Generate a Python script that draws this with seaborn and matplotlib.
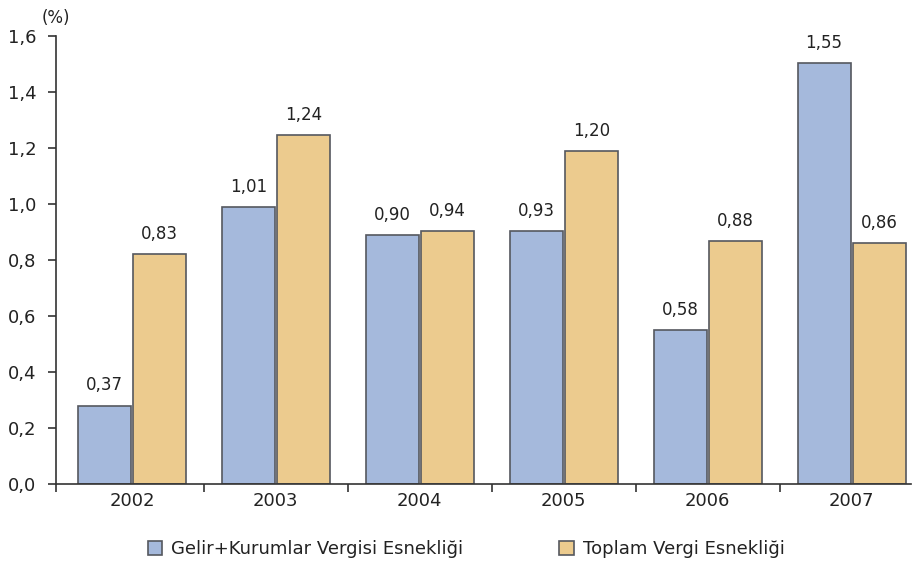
import pandas as pd
import seaborn as sns
import matplotlib.pyplot as plt
import numpy as np

# Data
years = ['2002', '2003', '2004', '2005', '2006', '2007']
gelirVals = [0.28, 0.99, 0.89, 0.905, 0.55, 1.505]
toplamVals = [0.82, 1.246, 0.904, 1.19, 0.868, 0.861]
gelirLabels = ['0,37', '1,01', '0,90', '0,93', '0,58', '1,55']
toplamLabels = ['0,83', '1,24', '0,94', '1,20', '0,88', '0,86']
yTicks = [0.0, 0.2, 0.4, 0.6, 0.8, 1.0, 1.2, 1.4, 1.6]
serGelir = 'Gelir+Kurumlar Vergisi Esnekliği'
serToplam = 'Toplam Vergi Esnekliği'

# Styles
cBlue = '#a5b9dc'
cTan = '#eccb8e'
edgeCol = '#55585f'
txtCol = '#222222'
axCol = '#333333'
xLeft, xRight = -0.528, 5.41

df = pd.DataFrame({'year': years * 2,
                   'value': gelirVals + toplamVals,
                   'series': [serGelir] * len(years) + [serToplam] * len(years)})

sns.set_style('white')
plt.rcParams['font.family'] = ['DejaVu Sans']

fig = plt.figure(figsize=(9.17, 5.66), dpi=100)
ax = fig.add_axes([0.061, 0.145, 0.932, 0.791])
sns.barplot(data=df, x='year', y='value', hue='series', palette=[cBlue, cTan],
            width=0.765, saturation=1, edgecolor=edgeCol, linewidth=1.2, ax=ax, legend=True)

# small gap between the two bars of a pair
for cont in ax.containers:
    for p in cont.patches:
        w = p.get_width()
        p.set_x(p.get_x() + 0.007)
        p.set_width(w - 0.014)

ax.bar_label(ax.containers[0], labels=gelirLabels, padding=8, fontsize=12, color=txtCol)
ax.bar_label(ax.containers[1], labels=toplamLabels, padding=8, fontsize=12, color=txtCol)

ax.set_ylim(0, 1.6)
ax.set_xlim(xLeft, xRight)
ax.set_yticks(yTicks)
ax.set_yticklabels([f'{t:.1f}'.replace('.', ',') for t in yTicks], fontsize=13, color=txtCol)
ax.set_xticks(range(len(years)))
ax.set_xticklabels(years, fontsize=13, color=txtCol)
ax.set_xticks([xLeft] + list(np.arange(0.5, len(years) - 1, 1)), minor=True)
ax.tick_params(axis='x', which='major', bottom=False, length=0, pad=6)
ax.tick_params(axis='x', which='minor', bottom=True, length=6, width=1.2, color=axCol, direction='out')
ax.tick_params(axis='y', left=True, length=6, width=1.2, color=axCol, direction='out', pad=8)
ax.set_xlabel('')
ax.set_ylabel('')
for s in ['top', 'right']:
    ax.spines[s].set_visible(False)
for s in ['left', 'bottom']:
    ax.spines[s].set_color(axCol)
    ax.spines[s].set_linewidth(1.2)

fig.text(0.045, 0.96, '(%)', fontsize=12, color=txtCol)

leg = ax.legend(loc='upper center', bbox_to_anchor=(0.48, -0.09), ncol=2, frameon=False,
                fontsize=13, handlelength=0.8, handleheight=0.8, columnspacing=5.3, handletextpad=0.5)
for t in leg.get_texts():
    t.set_color(txtCol)

fig.savefig('out.png', dpi=100)
